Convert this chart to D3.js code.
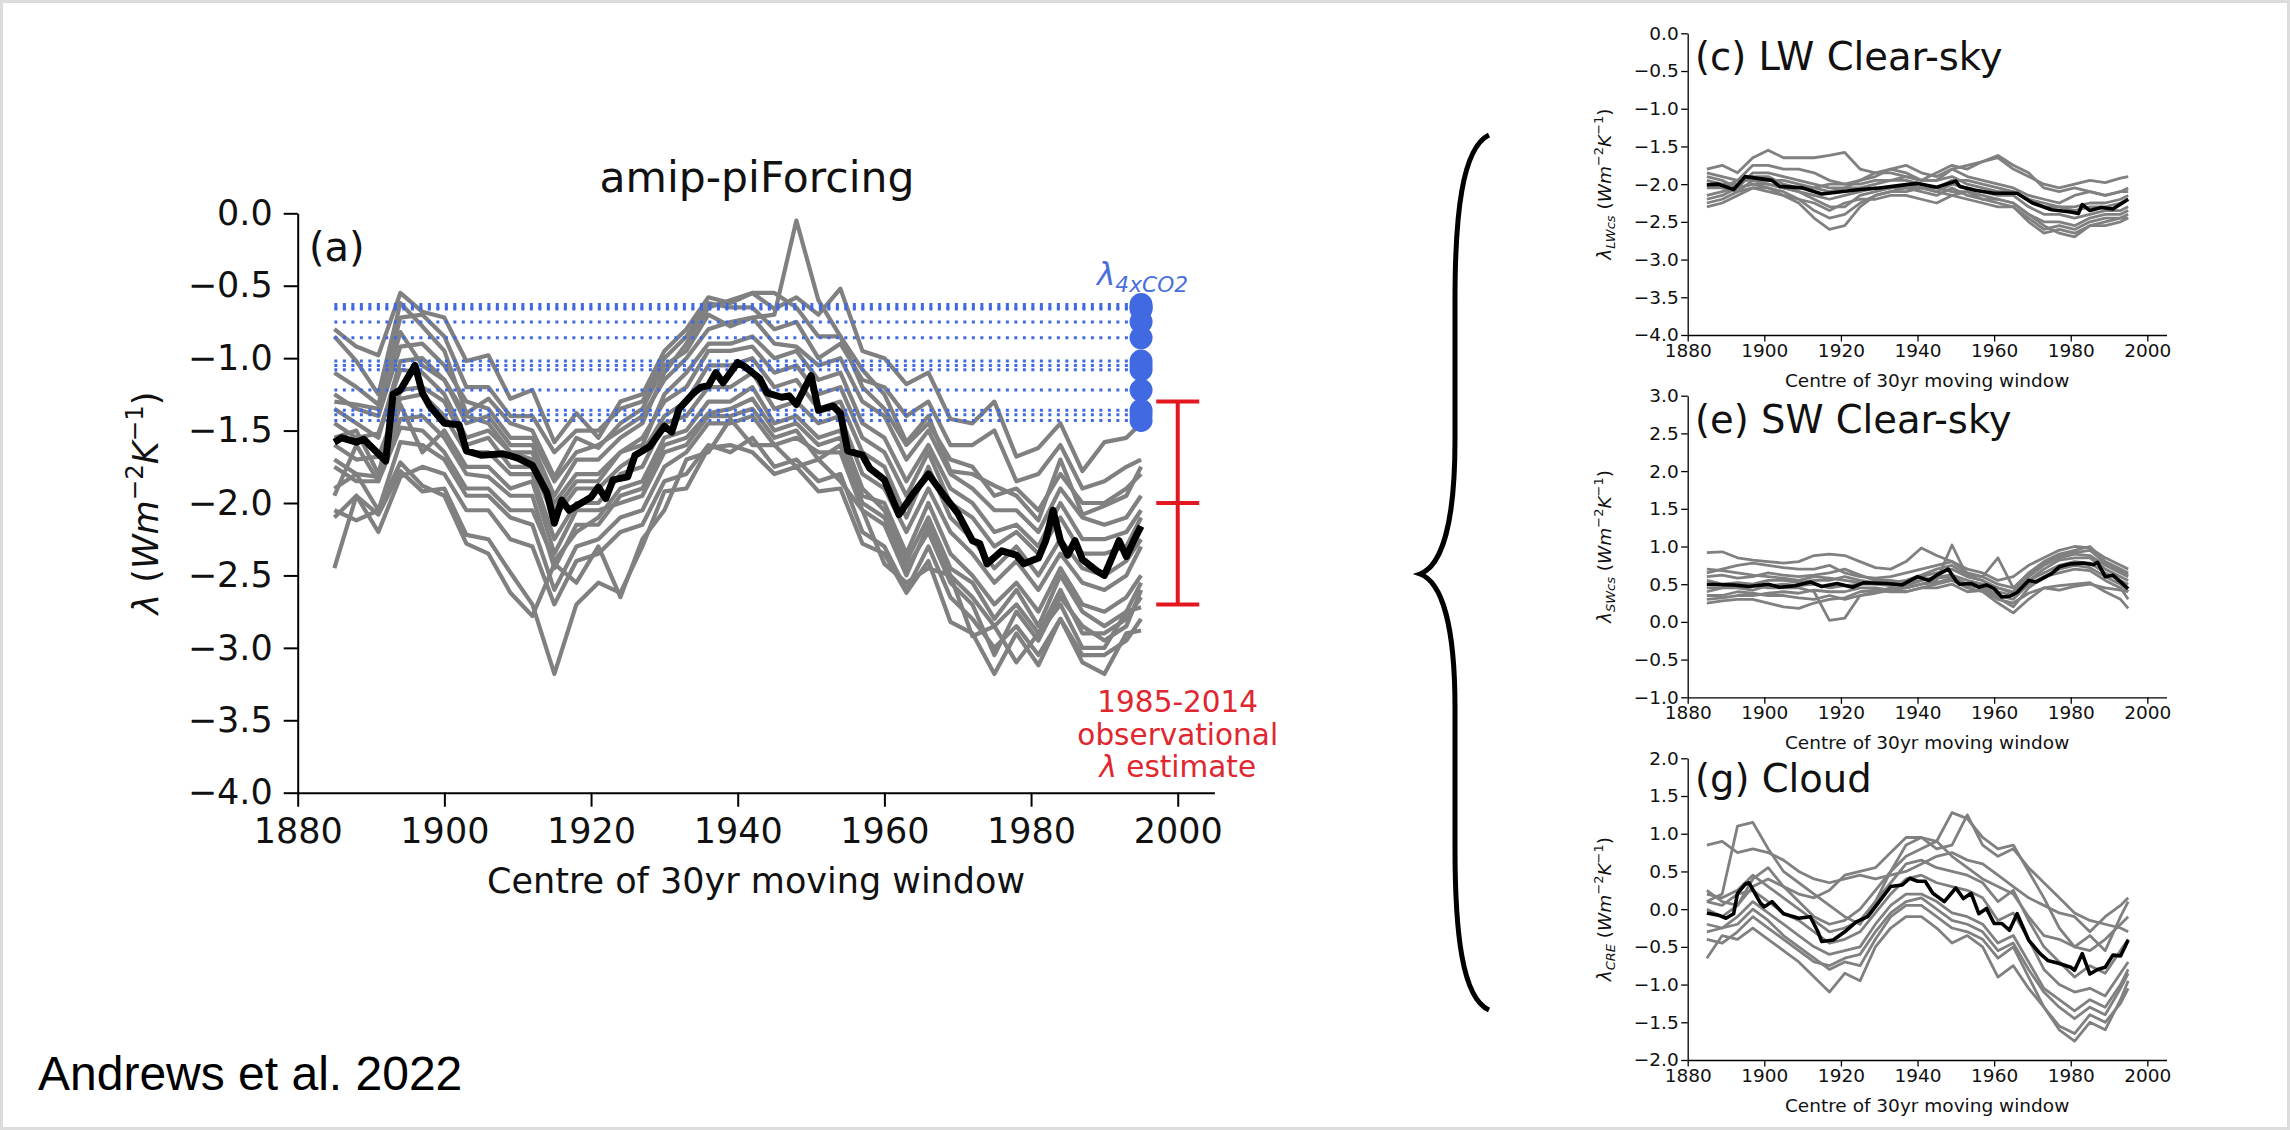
<!DOCTYPE html>
<html>
<head>
<meta charset="utf-8">
<script src="https://cdn.jsdelivr.net/npm/d3@7"></script>
<style>
  body { margin: 0; background: #fff; }
</style>
</head>
<body>
<div id="chart"></div>
<script>
// ---------- data ----------
var xTickYears = [1880, 1900, 1920, 1940, 1960, 1980, 2000];
var yTicksMain = [0, -0.5, -1, -1.5, -2, -2.5, -3, -3.5, -4];
var yTicksLW = [0, -0.5, -1, -1.5, -2, -2.5, -3, -3.5, -4];
var yTicksSW = [3, 2.5, 2, 1.5, 1, 0.5, 0, -0.5, -1];
var yTicksCRE = [2, 1.5, 1, 0.5, 0, -0.5, -1, -1.5, -2];

// panel (a): individual model lines
var mainGrayYears = [1885,1888,1891,1894,1897,1900,1903,1906,1909,1912,1915,1918,1921,1924,1927,1930,1933,1936,1939,1942,1945,1948,1951,1954,1957,1960,1963,1966,1969,1972,1975,1978,1981,1984,1987,1990,1993,1995];
var mainGray = [
  [-0.80,-0.92,-0.98,-0.55,-0.68,-0.72,-1.02,-0.98,-1.28,-1.22,-1.58,-1.38,-1.55,-1.30,-1.25,-0.95,-0.80,-0.58,-0.62,-0.55,-0.66,-0.58,-0.70,-0.52,-0.95,-1.00,-1.18,-1.10,-1.42,-1.45,-1.30,-1.68,-1.62,-1.45,-1.78,-1.58,-1.55,-1.45],
  [-0.85,-1.02,-1.25,-0.62,-0.78,-0.95,-1.38,-1.28,-1.45,-1.50,-1.82,-1.55,-1.62,-1.45,-1.35,-1.05,-0.95,-0.70,-0.78,-0.72,-0.70,-0.05,-0.60,-0.85,-1.08,-1.25,-1.58,-1.40,-1.78,-1.80,-1.88,-1.95,-2.12,-1.70,-2.08,-2.02,-1.95,-1.75],
  [-2.45,-1.95,-2.08,-1.78,-1.92,-1.90,-2.22,-2.25,-2.48,-2.70,-3.18,-2.70,-2.55,-2.62,-2.30,-1.92,-1.90,-1.62,-1.60,-1.65,-1.80,-1.75,-1.92,-1.90,-2.28,-2.35,-2.62,-2.40,-2.82,-2.90,-3.18,-2.90,-3.12,-2.80,-3.10,-3.18,-2.90,-2.88],
  [-2.05,-2.12,-2.05,-1.72,-1.88,-1.95,-2.28,-2.35,-2.62,-2.78,-2.42,-2.55,-2.30,-2.65,-2.25,-2.05,-1.70,-1.65,-1.42,-1.60,-1.60,-1.75,-1.70,-1.85,-2.05,-2.42,-2.55,-2.45,-2.50,-2.92,-2.85,-3.10,-2.90,-2.70,-3.00,-3.00,-2.75,-2.72],
  [-1.25,-1.35,-1.40,-0.92,-0.90,-1.05,-1.30,-1.35,-1.55,-1.55,-1.85,-1.65,-1.60,-1.50,-1.40,-1.15,-1.00,-0.80,-0.75,-0.72,-0.90,-0.92,-1.05,-1.00,-1.30,-1.40,-1.70,-1.50,-1.80,-1.90,-2.05,-2.05,-2.20,-1.90,-2.10,-2.15,-2.10,-1.95],
  [-1.70,-1.80,-1.82,-1.42,-1.40,-1.55,-1.80,-1.82,-1.95,-1.95,-2.45,-2.15,-2.15,-1.95,-1.90,-1.60,-1.55,-1.38,-1.35,-1.28,-1.50,-1.45,-1.60,-1.55,-1.95,-2.00,-2.35,-2.00,-2.35,-2.50,-2.70,-2.55,-2.75,-2.45,-2.70,-2.75,-2.65,-2.50],
  [-1.45,-1.55,-1.52,-1.08,-1.10,-1.25,-1.55,-1.50,-1.65,-1.65,-2.05,-1.85,-1.85,-1.65,-1.55,-1.30,-1.20,-0.95,-0.95,-0.92,-1.10,-1.05,-1.25,-1.20,-1.55,-1.65,-1.95,-1.65,-2.00,-2.10,-2.30,-2.20,-2.35,-2.10,-2.35,-2.35,-2.30,-2.10],
  [-1.90,-1.80,-2.05,-1.58,-1.60,-1.70,-1.95,-1.95,-2.10,-2.15,-2.60,-2.30,-2.25,-2.10,-2.05,-1.75,-1.65,-1.45,-1.45,-1.40,-1.60,-1.55,-1.65,-1.65,-2.05,-2.15,-2.50,-2.15,-2.50,-2.65,-2.85,-2.70,-2.90,-2.60,-2.90,-2.90,-2.80,-2.65],
  [-1.10,-1.20,-1.32,-0.72,-0.70,-0.85,-1.20,-1.20,-1.40,-1.40,-1.65,-1.50,-1.50,-1.35,-1.30,-1.00,-0.85,-0.62,-0.65,-0.65,-0.80,-0.75,-1.00,-0.90,-1.15,-1.20,-1.40,-1.30,-1.60,-1.60,-1.50,-1.85,-1.80,-1.60,-1.90,-1.85,-1.75,-1.70],
  [-1.60,-1.70,-1.68,-1.28,-1.25,-1.40,-1.65,-1.65,-1.80,-1.80,-2.25,-2.00,-2.00,-1.80,-1.75,-1.45,-1.40,-1.20,-1.20,-1.10,-1.35,-1.30,-1.45,-1.40,-1.80,-1.90,-2.20,-1.90,-2.20,-2.35,-2.55,-2.40,-2.60,-2.35,-2.55,-2.60,-2.50,-2.30],
  [-2.10,-1.95,-2.20,-1.82,-1.75,-1.80,-2.05,-2.05,-2.25,-2.30,-2.70,-2.40,-2.35,-2.20,-2.15,-1.85,-1.80,-1.60,-1.65,-1.55,-1.75,-1.70,-1.85,-1.80,-2.20,-2.30,-2.60,-2.30,-2.65,-2.80,-3.00,-2.85,-3.05,-2.80,-3.05,-3.05,-2.95,-2.80],
  [-1.35,-1.45,-1.55,-1.02,-1.00,-1.15,-1.45,-1.40,-1.60,-1.60,-1.95,-1.70,-1.70,-1.55,-1.45,-1.10,-0.90,-0.65,-0.60,-0.55,-0.55,-0.65,-0.85,-0.85,-1.20,-1.35,-1.60,-1.45,-1.70,-1.75,-1.95,-1.90,-2.05,-1.80,-2.00,-2.00,-1.90,-1.80],
  [-1.75,-1.85,-1.85,-1.48,-1.50,-1.65,-1.90,-1.90,-2.05,-2.05,-2.40,-2.20,-2.10,-1.90,-1.85,-1.55,-1.50,-1.30,-1.30,-1.20,-1.45,-1.40,-1.55,-1.50,-1.90,-2.05,-2.40,-2.10,-2.45,-2.55,-2.80,-2.60,-2.85,-2.50,-2.75,-2.85,-2.75,-2.55],
  [-1.55,-1.50,-1.80,-1.22,-1.20,-1.30,-1.60,-1.55,-1.75,-1.75,-2.10,-1.90,-1.90,-1.75,-1.65,-1.40,-1.30,-1.05,-1.05,-1.00,-1.20,-1.15,-1.35,-1.30,-1.65,-1.75,-2.10,-1.75,-2.10,-2.25,-2.45,-2.30,-2.50,-2.25,-2.45,-2.50,-2.40,-2.25],
  [-1.95,-1.60,-1.85,-1.32,-1.65,-1.50,-1.75,-1.75,-1.90,-1.85,-2.35,-2.05,-2.05,-2.00,-1.95,-1.65,-1.60,-1.40,-1.40,-1.35,-1.55,-1.50,-1.70,-1.60,-2.00,-2.10,-2.45,-2.20,-2.55,-2.70,-3.05,-2.75,-2.95,-2.65,-2.85,-2.95,-2.85,-2.60],
  [-1.30,-1.32,-1.35,-0.82,-1.05,-1.15,-1.40,-1.45,-1.65,-1.70,-2.00,-1.80,-1.80,-1.65,-1.60,-1.25,-1.10,-0.90,-0.90,-0.85,-1.00,-0.95,-1.15,-1.10,-1.45,-1.55,-1.85,-1.60,-1.90,-2.00,-2.20,-2.15,-2.30,-2.00,-2.25,-2.25,-2.20,-2.05]
];
// panel (a): multi-model mean
var mainMeanYears = [1885,1886,1888,1889,1892,1893,1894,1896,1897,1898,1900,1902,1903,1905,1908,1910,1912,1914,1915,1916,1917,1920,1921,1922,1923,1925,1926,1928,1930,1931,1932,1934,1935,1936,1937,1938,1939,1940,1941,1943,1944,1946,1947,1948,1950,1951,1953,1954,1955,1957,1958,1960,1962,1964,1966,1968,1970,1972,1973,1974,1976,1978,1979,1981,1982,1983,1984,1985,1986,1987,1989,1990,1991,1992,1993,1994,1995];
var mainMean = [-1.58,-1.55,-1.58,-1.56,-1.71,-1.25,-1.22,-1.05,-1.24,-1.33,-1.45,-1.46,-1.64,-1.67,-1.66,-1.69,-1.74,-1.93,-2.14,-1.98,-2.05,-1.96,-1.89,-1.97,-1.84,-1.82,-1.67,-1.61,-1.47,-1.51,-1.35,-1.24,-1.20,-1.19,-1.10,-1.17,-1.10,-1.03,-1.06,-1.14,-1.24,-1.27,-1.26,-1.32,-1.12,-1.36,-1.33,-1.38,-1.64,-1.67,-1.76,-1.84,-2.08,-1.93,-1.80,-1.94,-2.07,-2.26,-2.28,-2.42,-2.33,-2.36,-2.42,-2.38,-2.26,-2.05,-2.26,-2.36,-2.26,-2.39,-2.47,-2.50,-2.38,-2.26,-2.37,-2.26,-2.16];
// abrupt-4xCO2 feedbacks and the observational estimate
var lambda4x = [-0.63,-0.65,-0.66,-0.75,-0.86,-1.02,-1.05,-1.08,-1.22,-1.36,-1.39,-1.43];
var lambda4xSpan = [1885, 1995];
var obsYear = 2000;
var obsRange = [-2.7, -2.0, -1.3];

// right-hand panels
var rightGrayYears = [1885,1889,1893,1897,1901,1905,1909,1913,1917,1921,1925,1929,1933,1937,1941,1945,1949,1953,1957,1961,1965,1969,1973,1977,1981,1985,1989,1993,1995];
var lwGray = [
  [-1.80,-1.75,-1.85,-1.65,-1.55,-1.65,-1.65,-1.65,-1.62,-1.58,-1.80,-1.85,-1.80,-1.75,-1.85,-1.90,-1.80,-1.75,-1.70,-1.65,-1.80,-1.90,-2.00,-2.05,-2.00,-1.95,-1.98,-1.92,-1.90],
  [-1.85,-1.90,-1.95,-1.75,-1.75,-1.80,-1.80,-1.85,-1.95,-2.00,-1.95,-1.90,-1.80,-1.85,-1.95,-1.95,-1.80,-1.90,-1.95,-2.00,-2.05,-2.15,-2.20,-2.25,-2.15,-2.10,-2.15,-2.10,-2.05],
  [-1.95,-2.00,-2.00,-1.90,-1.90,-2.00,-2.05,-2.05,-2.00,-2.00,-2.00,-1.95,-1.95,-1.90,-1.95,-1.95,-1.90,-2.00,-2.05,-2.10,-2.10,-2.20,-2.25,-2.30,-2.35,-2.30,-2.30,-2.25,-2.20],
  [-2.15,-2.10,-2.05,-2.00,-2.05,-2.15,-2.25,-2.45,-2.60,-2.55,-2.30,-2.15,-2.10,-2.10,-2.05,-2.10,-2.15,-2.10,-2.20,-2.25,-2.30,-2.45,-2.60,-2.55,-2.60,-2.50,-2.45,-2.45,-2.40],
  [-2.25,-2.20,-2.10,-2.05,-2.05,-2.10,-2.20,-2.35,-2.45,-2.40,-2.25,-2.15,-2.10,-2.05,-2.10,-2.15,-2.05,-2.15,-2.20,-2.20,-2.25,-2.40,-2.55,-2.65,-2.70,-2.55,-2.50,-2.45,-2.45],
  [-2.30,-2.25,-2.15,-2.05,-2.10,-2.15,-2.20,-2.25,-2.35,-2.25,-2.20,-2.20,-2.15,-2.15,-2.20,-2.25,-2.15,-2.20,-2.25,-2.30,-2.30,-2.50,-2.65,-2.60,-2.65,-2.55,-2.55,-2.50,-2.45],
  [-2.05,-2.05,-1.95,-1.95,-2.00,-2.05,-2.10,-2.15,-2.20,-2.15,-2.10,-2.05,-2.05,-2.00,-2.05,-2.10,-2.00,-2.05,-2.10,-2.15,-2.15,-2.30,-2.40,-2.40,-2.45,-2.40,-2.35,-2.35,-2.30],
  [-1.90,-1.95,-2.05,-1.85,-1.85,-1.90,-1.95,-2.00,-2.05,-2.05,-2.05,-2.00,-1.95,-1.95,-2.00,-2.05,-1.95,-1.95,-2.00,-2.05,-2.10,-2.20,-2.30,-2.30,-2.30,-2.25,-2.25,-2.20,-2.15],
  [-2.00,-2.05,-2.10,-1.95,-1.95,-1.95,-2.00,-2.05,-2.10,-2.05,-1.95,-1.85,-1.85,-1.90,-1.95,-1.85,-1.75,-1.80,-1.70,-1.62,-1.75,-1.85,-2.05,-2.10,-2.05,-2.10,-2.15,-2.10,-2.10],
  [-2.20,-2.15,-2.05,-2.00,-2.00,-2.05,-2.10,-2.20,-2.30,-2.30,-2.15,-2.10,-2.05,-2.05,-2.05,-2.05,-2.10,-2.10,-2.15,-2.20,-2.25,-2.40,-2.50,-2.50,-2.55,-2.45,-2.40,-2.40,-2.35]
];
var lwMeanYears = [1885,1888,1892,1895,1902,1904,1910,1915,1920,1925,1930,1935,1940,1945,1950,1951,1955,1960,1966,1970,1975,1980,1982,1983,1985,1988,1991,1995];
var lwMean = [-2.01,-2.00,-2.07,-1.90,-1.95,-2.03,-2.05,-2.13,-2.10,-2.07,-2.05,-2.02,-1.99,-2.04,-1.96,-2.03,-2.08,-2.12,-2.12,-2.25,-2.34,-2.37,-2.39,-2.27,-2.35,-2.31,-2.33,-2.20];

var swGray = [
  [0.92,0.93,0.85,0.82,0.80,0.78,0.80,0.88,0.90,0.88,0.80,0.72,0.70,0.80,0.98,0.88,0.80,0.70,0.65,0.55,0.60,0.75,0.85,0.95,1.00,0.98,0.85,0.75,0.70],
  [0.40,0.45,0.50,0.48,0.45,0.45,0.45,0.40,0.02,0.05,0.35,0.40,0.45,0.45,0.50,0.55,1.02,0.60,0.55,0.40,0.35,0.55,0.65,0.75,0.80,0.78,0.65,0.55,0.50],
  [0.25,0.28,0.30,0.30,0.25,0.20,0.18,0.25,0.30,0.32,0.40,0.42,0.40,0.40,0.45,0.50,0.55,0.45,0.40,0.25,0.12,0.30,0.45,0.48,0.50,0.52,0.40,0.30,0.18],
  [0.35,0.35,0.40,0.38,0.35,0.35,0.32,0.30,0.35,0.30,0.35,0.38,0.42,0.40,0.45,0.45,0.50,0.40,0.42,0.30,0.25,0.38,0.45,0.42,0.47,0.50,0.45,0.42,0.40],
  [0.60,0.62,0.58,0.60,0.65,0.62,0.60,0.62,0.65,0.70,0.62,0.55,0.55,0.52,0.60,0.65,0.70,0.60,0.55,0.45,0.40,0.60,0.75,0.85,0.90,0.88,0.75,0.65,0.60],
  [0.70,0.68,0.65,0.62,0.60,0.58,0.55,0.60,0.58,0.55,0.52,0.50,0.50,0.48,0.55,0.60,0.62,0.55,0.50,0.45,0.38,0.55,0.70,0.82,0.85,0.85,0.70,0.60,0.55],
  [0.45,0.45,0.45,0.42,0.48,0.50,0.48,0.50,0.45,0.48,0.50,0.50,0.48,0.50,0.55,0.58,0.60,0.50,0.48,0.35,0.30,0.50,0.60,0.70,0.75,0.72,0.60,0.50,0.40],
  [0.30,0.32,0.35,0.35,0.38,0.40,0.38,0.42,0.40,0.40,0.45,0.45,0.42,0.45,0.50,0.52,0.58,0.48,0.45,0.32,0.20,0.45,0.60,0.65,0.70,0.68,0.55,0.45,0.30],
  [0.55,0.50,0.52,0.50,0.55,0.55,0.52,0.55,0.55,0.60,0.55,0.52,0.52,0.55,0.62,0.70,0.75,0.62,0.60,0.85,0.45,0.65,0.80,0.90,0.95,1.00,0.80,0.70,0.65],
  [0.65,0.70,0.75,0.78,0.75,0.72,0.70,0.70,0.75,0.65,0.60,0.58,0.60,0.65,0.70,0.75,0.80,0.65,0.60,0.50,0.45,0.62,0.78,0.88,0.92,0.95,0.78,0.68,0.62]
];
var swMeanYears = [1885,1892,1896,1901,1904,1908,1912,1915,1919,1923,1926,1932,1936,1940,1943,1945,1948,1950,1951,1954,1956,1958,1960,1962,1964,1966,1969,1971,1975,1977,1980,1983,1986,1987,1989,1991,1993,1995];
var swMean = [0.50,0.49,0.47,0.50,0.46,0.48,0.53,0.47,0.51,0.46,0.52,0.51,0.49,0.60,0.55,0.62,0.70,0.55,0.50,0.51,0.46,0.49,0.44,0.33,0.34,0.39,0.55,0.53,0.64,0.73,0.77,0.78,0.76,0.79,0.60,0.62,0.53,0.44];

var creGray = [
  [0.85,0.90,0.75,0.80,0.75,0.65,0.50,0.40,0.35,0.40,0.45,0.40,0.45,0.50,0.60,0.70,0.75,0.65,0.60,0.45,0.30,0.15,0.05,-0.05,-0.10,-0.30,-0.10,0.05,0.15],
  [0.10,0.20,1.10,1.15,0.80,0.50,0.35,0.20,0.05,-0.10,-0.20,0.10,0.50,0.85,0.95,0.90,0.70,0.55,0.40,0.30,0.20,-0.10,-0.35,-0.40,-0.50,-0.55,-0.40,-0.20,-0.10],
  [0.25,0.10,0.05,0.40,0.55,0.30,0.10,-0.10,-0.20,-0.15,0.00,0.25,0.50,0.70,0.80,0.90,1.28,1.20,0.95,0.80,0.85,0.50,0.15,-0.25,-0.50,-0.35,-0.55,-0.10,0.10],
  [-0.65,-0.35,-0.40,-0.25,-0.40,-0.55,-0.70,-0.90,-1.10,-0.85,-0.95,-0.50,-0.25,-0.10,-0.10,-0.25,-0.45,-0.35,-0.50,-0.90,-0.75,-1.05,-1.30,-1.55,-1.65,-1.40,-1.50,-1.25,-1.05],
  [-0.30,-0.25,-0.20,0.00,-0.15,-0.35,-0.50,-0.65,-0.80,-0.70,-0.75,-0.40,-0.10,0.05,0.05,-0.10,-0.25,-0.30,-0.40,-0.65,-0.50,-0.90,-1.30,-1.60,-1.75,-1.50,-1.60,-1.20,-0.95],
  [0.10,0.05,0.20,0.25,0.10,-0.05,-0.15,-0.30,-0.45,-0.40,-0.30,-0.05,0.20,0.40,0.45,0.35,0.30,0.25,0.15,-0.15,-0.05,-0.40,-0.80,-1.00,-1.10,-1.05,-1.15,-0.85,-0.70],
  [-0.20,-0.25,-0.10,0.10,-0.05,-0.20,-0.35,-0.50,-0.60,-0.55,-0.50,-0.20,0.05,0.20,0.20,0.10,-0.05,-0.10,-0.20,-0.45,-0.35,-0.70,-1.05,-1.20,-1.35,-1.20,-1.30,-1.00,-0.80],
  [0.00,-0.10,0.05,0.30,0.40,0.30,0.20,0.15,0.25,0.45,0.50,0.55,0.75,0.95,0.95,0.80,0.85,1.25,0.85,0.70,0.80,0.55,0.35,0.15,-0.05,-0.15,-0.20,-0.25,-0.30],
  [-0.40,-0.45,-0.30,-0.10,-0.25,-0.40,-0.55,-0.70,-0.75,-0.65,-0.60,-0.30,-0.05,0.10,0.15,0.00,-0.15,-0.20,-0.30,-0.55,-0.45,-0.80,-1.10,-1.30,-1.45,-1.30,-1.40,-1.05,-0.85],
  [0.20,0.15,0.25,0.45,0.30,0.15,0.00,-0.15,-0.30,-0.25,-0.15,0.10,0.35,0.60,0.65,0.55,0.50,0.45,0.35,0.10,0.25,-0.15,-0.50,-0.70,-0.90,-0.75,-0.85,-0.55,-0.40]
];
var creMeanYears = [1885,1888,1890,1892,1893,1895,1896,1899,1900,1902,1905,1909,1912,1914,1915,1918,1921,1924,1927,1930,1933,1936,1938,1940,1942,1944,1947,1950,1952,1954,1956,1958,1960,1962,1964,1966,1969,1972,1974,1977,1980,1981,1983,1985,1987,1989,1991,1993,1995];
var creMean = [-0.05,-0.08,-0.12,-0.06,0.21,0.33,0.35,0.08,0.03,0.10,-0.06,-0.12,-0.10,-0.30,-0.43,-0.41,-0.30,-0.17,-0.10,0.10,0.30,0.32,0.41,0.37,0.37,0.21,0.10,0.28,0.14,0.21,-0.06,0.01,-0.19,-0.19,-0.28,-0.06,-0.41,-0.59,-0.68,-0.72,-0.77,-0.81,-0.59,-0.86,-0.80,-0.77,-0.61,-0.62,-0.41];

// ---------- drawing ----------
var FONT = "DejaVu Sans, Verdana, sans-serif";
var svg = d3.select("#chart").append("svg")
    .attr("width", 2290)
    .attr("height", 1130);

svg.append("rect").attr("x", 1.5).attr("y", 1.5).attr("width", 2287).attr("height", 1127)
    .attr("fill", "#fff").attr("stroke", "#dcdcdc").attr("stroke-width", 3);

// writes matplotlib-like mathtext: parts are [text, italic, shift] with shift "sup"/"sub"/null
function mathText(sel, parts, fs) {
  var cur = 0;
  parts.forEach(function(p) {
    var small = p[2] ? fs * 0.7 : fs;
    var target = p[2] == "sup" ? -0.42 * fs : (p[2] == "sub" ? 0.22 * fs : 0);
    sel.append("tspan")
        .attr("dy", target - cur)
        .attr("font-size", small)
        .attr("font-style", p[1] ? "italic" : "normal")
        .text(p[0]);
    cur = target;
  });
}

function drawPanel(p) {
  var x = d3.scaleLinear().domain([1880, 2005]).range([p.left, p.right]);
  var y = d3.scaleLinear().domain(p.yDomain).range([p.bottom, p.top]);
  var g = svg.append("g");
  var line = d3.line().x(function(d) { return x(d[0]); }).y(function(d) { return y(d[1]); });

  p.gray.forEach(function(s) {
    g.append("path")
        .datum(p.grayYears.map(function(yr, i) { return [yr, s[i]]; }))
        .attr("d", line)
        .attr("fill", "none")
        .attr("stroke", "#808080")
        .attr("stroke-width", p.grayW)
        .attr("stroke-linejoin", "round");
  });

  if (p.extra) p.extra(g, x, y);

  g.append("path")
      .datum(p.meanYears.map(function(yr, i) { return [yr, p.mean[i]]; }))
      .attr("d", line)
      .attr("fill", "none")
      .attr("stroke", "#000")
      .attr("stroke-width", p.blackW)
      .attr("stroke-linejoin", "round");

  // axes
  var xa = g.append("g")
      .attr("transform", "translate(0," + p.bottom + ")")
      .call(d3.axisBottom(x).tickValues(xTickYears).tickFormat(d3.format("d"))
            .tickSize(p.tick).tickPadding(p.pad).tickSizeOuter(0));
  var ya = g.append("g")
      .attr("transform", "translate(" + p.left + ",0)")
      .call(d3.axisLeft(y).tickValues(p.yTicks).tickFormat(d3.format(".1f"))
            .tickSize(p.tick).tickPadding(p.pad).tickSizeOuter(0));
  [xa, ya].forEach(function(a) {
    a.attr("font-family", FONT).attr("font-size", p.fs);
    a.select(".domain").attr("stroke", "#000").attr("stroke-width", p.axisW);
    a.selectAll(".tick line").attr("stroke", "#000").attr("stroke-width", p.axisW);
    a.selectAll(".tick text").attr("fill", "#111");
  });

  // x label
  g.append("text")
      .attr("x", (p.left + p.right) / 2)
      .attr("y", p.bottom + p.xlabDy)
      .attr("text-anchor", "middle")
      .attr("font-family", FONT)
      .attr("font-size", p.fs)
      .attr("fill", "#111")
      .text("Centre of 30yr moving window");

  // y label
  var yl = g.append("text")
      .attr("transform", "translate(" + p.ylabX + "," + (p.top + p.bottom) / 2 + ") rotate(-90)")
      .attr("text-anchor", "middle")
      .attr("font-family", FONT)
      .attr("font-size", p.ylabFs)
      .attr("fill", "#111");
  mathText(yl, p.ylab, p.ylabFs);

  // panel label
  g.append("text")
      .attr("x", p.labX)
      .attr("y", p.top + p.labDy)
      .attr("font-family", FONT)
      .attr("font-size", p.labFs)
      .attr("fill", "#111")
      .text(p.label);
  return { x: x, y: y, g: g };
}

var unitParts = [[" (", false], ["Wm", true], ["\u22122", false, "sup"], ["K", true], ["\u22121", false, "sup"], [")", false]];

var main = drawPanel({
  left: 297.7, right: 1214.4, top: 213.3, bottom: 792.7,
  yDomain: [-4, 0], yTicks: yTicksMain,
  gray: mainGray, grayYears: mainGrayYears, mean: mainMean, meanYears: mainMeanYears,
  grayW: 4.2, blackW: 7, axisW: 2, tick: 14, pad: 11, fs: 35,
  xlabDy: 100, ylabX: 158, ylabFs: 35,
  ylab: [["\u03bb", true]].concat(unitParts),
  label: "(a)", labX: 309, labDy: 48, labFs: 40,
  extra: function(g, x, y) {
    lambda4x.forEach(function(v) {
      g.append("line")
          .attr("x1", x(lambda4xSpan[0])).attr("x2", x(lambda4xSpan[1]))
          .attr("y1", y(v)).attr("y2", y(v))
          .attr("stroke", "#4169e1")
          .attr("stroke-width", 3)
          .attr("stroke-dasharray", "3,5.5");
    });
    lambda4x.forEach(function(v) {
      g.append("circle")
          .attr("cx", x(lambda4xSpan[1])).attr("cy", y(v)).attr("r", 11.5)
          .attr("fill", "#4169e1");
    });
    var red = "#e3171f";
    g.append("line")
        .attr("x1", x(obsYear)).attr("x2", x(obsYear))
        .attr("y1", y(obsRange[0])).attr("y2", y(obsRange[2]))
        .attr("stroke", red).attr("stroke-width", 4);
    obsRange.forEach(function(v) {
      g.append("line")
          .attr("x1", x(obsYear) - 21.5).attr("x2", x(obsYear) + 21.5)
          .attr("y1", y(v)).attr("y2", y(v))
          .attr("stroke", red).attr("stroke-width", 4);
    });
  }
});

// title
svg.append("text")
    .attr("x", 757).attr("y", 192)
    .attr("text-anchor", "middle")
    .attr("font-family", FONT).attr("font-size", 42.5)
    .attr("fill", "#111")
    .text("amip-piForcing");

// lambda_4xCO2 label
var bl = svg.append("text")
    .attr("x", 1097).attr("y", 285)
    .attr("font-family", FONT).attr("font-size", 31)
    .attr("fill", "#4a6fdc");
mathText(bl, [["\u03bb", true], ["4xCO2", true, "sub"]], 31);

// observational estimate text
var obsText = svg.append("text")
    .attr("text-anchor", "middle")
    .attr("font-family", FONT).attr("font-size", 29.5)
    .attr("fill", "#e0262e");
obsText.append("tspan").attr("x", main.x(obsYear)).attr("y", 712).text("1985-2014");
obsText.append("tspan").attr("x", main.x(obsYear)).attr("y", 745).text("observational");
var l3 = obsText.append("tspan").attr("x", main.x(obsYear)).attr("y", 777);
l3.append("tspan").attr("font-style", "italic").text("\u03bb");
l3.append("tspan").text(" estimate");

var rightBase = {
  left: 1687.7, right: 2166.5,
  grayYears: rightGrayYears,
  grayW: 2.8, blackW: 3.6, axisW: 1.3, tick: 6.5, pad: 2.5, fs: 18.5,
  xlabDy: 52, ylabX: 1611, ylabFs: 18.5,
  labX: 1695, labFs: 38.5, labDy: 37
};

drawPanel(Object.assign({}, rightBase, {
  top: 33.3, bottom: 335, yDomain: [-4, 0], yTicks: yTicksLW,
  gray: lwGray, mean: lwMean, meanYears: lwMeanYears,
  ylab: [["\u03bb", true], ["LWcs", true, "sub"]].concat(unitParts),
  label: "(c) LW Clear-sky"
}));
drawPanel(Object.assign({}, rightBase, {
  top: 395.7, bottom: 697.3, yDomain: [-1, 3], yTicks: yTicksSW,
  gray: swGray, mean: swMean, meanYears: swMeanYears,
  ylab: [["\u03bb", true], ["SWcs", true, "sub"]].concat(unitParts),
  label: "(e) SW Clear-sky"
}));
drawPanel(Object.assign({}, rightBase, {
  top: 758.3, bottom: 1060, yDomain: [-2, 2], yTicks: yTicksCRE,
  gray: creGray, mean: creMean, meanYears: creMeanYears,
  ylab: [["\u03bb", true], ["CRE", true, "sub"]].concat(unitParts),
  label: "(g) Cloud", labDy: 34
}));

// curly brace linking panel (a) to the breakdown
svg.append("path")
    .attr("d", "M1489,135 C1462,148 1455,215 1455,300 L1455,440 C1455,522 1442,566 1420,574 C1442,582 1455,626 1455,708 L1455,848 C1455,932 1462,998 1489,1010")
    .attr("fill", "none")
    .attr("stroke", "#000")
    .attr("stroke-width", 5);

// citation
svg.append("text")
    .attr("x", 38).attr("y", 1090)
    .attr("font-family", "Liberation Sans, Arial, sans-serif")
    .attr("font-size", 48)
    .attr("fill", "#000")
    .text("Andrews et al. 2022");
</script>
</body>
</html>
